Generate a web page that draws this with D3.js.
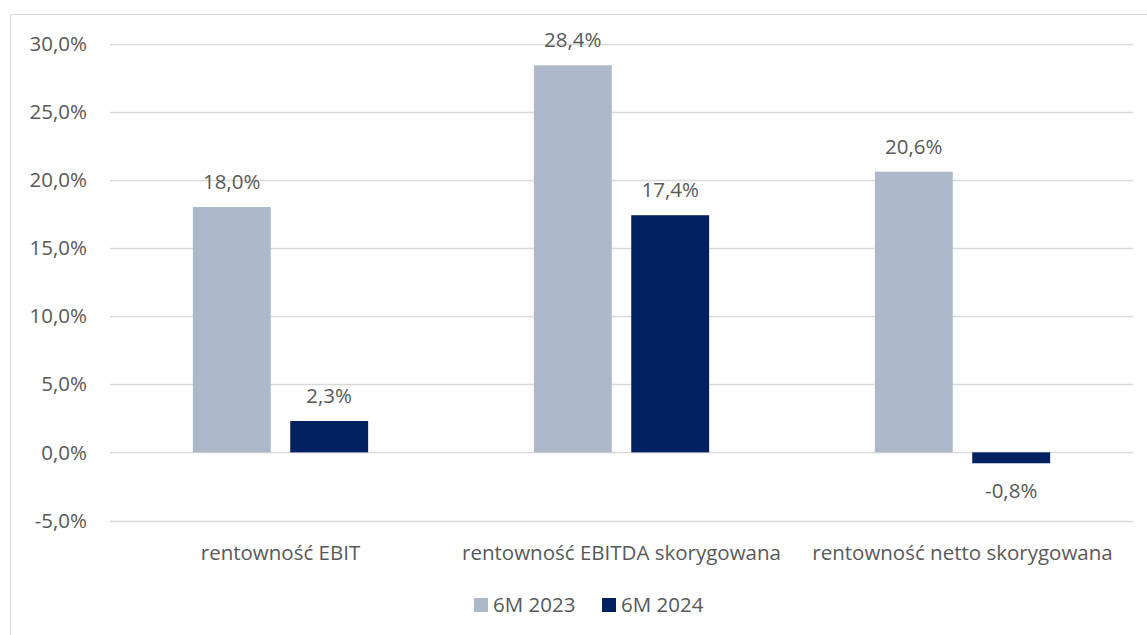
<!DOCTYPE html>
<html>
<head>
<meta charset="utf-8">
<script src="https://cdn.jsdelivr.net/npm/d3@7"></script>
<style>
  body { margin: 0; background: #fff; }
  text { font-family: "Open Sans", "Noto Sans", sans-serif; fill: #595959; }
</style>
</head>
<body>
<div id="chart"></div>
<script>
var categories = ["rentowność EBIT", "rentowność EBITDA skorygowana", "rentowność netto skorygowana"];
var seriesNames = ["6M 2023", "6M 2024"];
var values2023 = [18.0, 28.4, 20.6];
var values2024 = [2.3, 17.4, -0.8];
var yTicks = [-5, 0, 5, 10, 15, 20, 25, 30];

var colors = ["#adb9ca", "#002060"];
var width = 1147, height = 635;
var fontSize = "20.5px";

var data = categories.map(function(c, i) {
  return { cat: c, vals: [values2023[i], values2024[i]] };
});

var svg = d3.select("#chart").append("svg")
    .attr("width", width)
    .attr("height", height);

// outer chart border
svg.append("rect")
    .attr("x", 10.5).attr("y", 14.5)
    .attr("width", width + 20).attr("height", height + 20)
    .attr("fill", "none")
    .attr("stroke", "#d9d9d9");

var x0 = d3.scaleBand().domain(categories).range([110, 1133]);
var bw = x0.bandwidth();
var x1 = d3.scaleBand().domain([0, 1]).range([bw * 0.243, bw * 0.757]).paddingInner(0.2);
var y = d3.scaleLinear().domain([-5, 30]).range([520.5, 43.5]);

var fmt = function(v) { return v.toFixed(1).replace(".", ",") + "%"; };

// gridlines
svg.append("g").selectAll("line")
    .data(yTicks).enter().append("line")
    .attr("x1", 110).attr("x2", 1133)
    .attr("y1", function(d) { return Math.round(y(d)) + 0.5; })
    .attr("y2", function(d) { return Math.round(y(d)) + 0.5; })
    .attr("stroke", "#d9d9d9")
    .attr("stroke-width", 1.5);

// y axis labels
svg.append("g").selectAll("text")
    .data(yTicks).enter().append("text")
    .attr("x", 87)
    .attr("y", function(d) { return y(d); })
    .attr("dy", "0.35em")
    .attr("text-anchor", "end")
    .style("font-size", fontSize)
    .text(fmt);

var groups = svg.append("g").selectAll("g")
    .data(data).enter().append("g")
    .attr("transform", function(d) { return "translate(" + x0(d.cat) + ",0)"; });

groups.selectAll("rect")
    .data(function(d) { return d.vals; })
    .enter().append("rect")
    .attr("x", function(d, i) { return x1(i); })
    .attr("width", x1.bandwidth())
    .attr("y", function(d) { return y(Math.max(0, d)); })
    .attr("height", function(d) { return Math.abs(y(d) - y(0)); })
    .attr("fill", function(d, i) { return colors[i]; });

groups.selectAll("text.val")
    .data(function(d) { return d.vals; })
    .enter().append("text")
    .attr("class", "val")
    .attr("x", function(d, i) { return x1(i) + x1.bandwidth() / 2; })
    .attr("y", function(d) { return d >= 0 ? y(d) - 25 : y(d) + 28; })
    .attr("dy", "0.35em")
    .attr("text-anchor", "middle")
    .style("font-size", fontSize)
    .text(fmt);

// category labels
svg.append("g").selectAll("text")
    .data(categories).enter().append("text")
    .attr("x", function(d) { return x0(d) + bw / 2; })
    .attr("y", 553)
    .attr("dy", "0.35em")
    .attr("text-anchor", "middle")
    .style("font-size", fontSize)
    .text(function(d) { return d; });

// legend
var legendX = [474, 602];
var legend = svg.append("g").selectAll("g")
    .data(seriesNames).enter().append("g")
    .attr("transform", function(d, i) { return "translate(" + legendX[i] + ",598)"; });
legend.append("rect")
    .attr("width", 14).attr("height", 14)
    .attr("fill", function(d, i) { return colors[i]; });
legend.append("text")
    .attr("x", 19).attr("y", 7)
    .attr("dy", "0.35em")
    .style("font-size", fontSize)
    .text(function(d) { return d; });
</script>
</body>
</html>
